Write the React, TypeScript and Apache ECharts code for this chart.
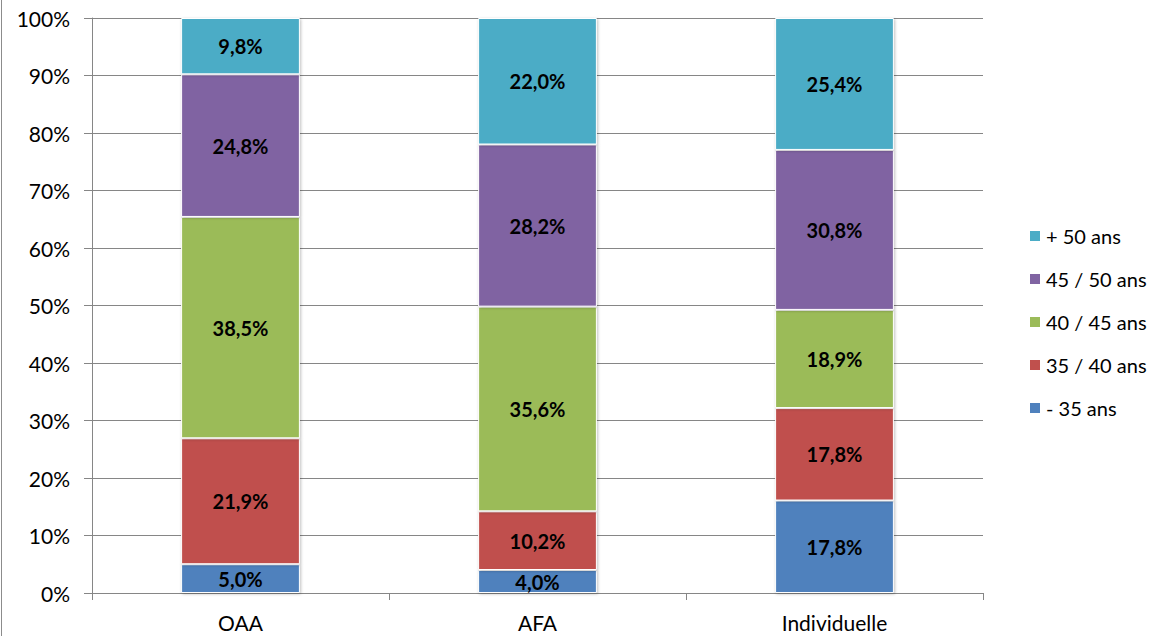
import React, { useEffect, useRef } from "react";
import * as echarts from "echarts";

const categories = ["OAA", "AFA", "Individuelle"];
const seriesNames = ["- 35 ans", "35 / 40 ans", "40 / 45 ans", "45 / 50 ans", "+ 50 ans"];
const under35 = [5.0, 4.0, 17.8];
const from35to40 = [21.9, 10.2, 17.8];
const from40to45 = [38.5, 35.6, 18.9];
const from45to50 = [24.8, 28.2, 30.8];
const over50 = [9.8, 22.0, 25.4];
const colors = ["#4F81BD", "#C0504D", "#9BBB59", "#8064A2", "#4BACC6"];
const yTicks = { min: 0, max: 100, interval: 10 };

const FONT = "Lato, 'Open Sans', sans-serif";

export default function App() {
  const ref = useRef<HTMLDivElement>(null);
  useEffect(() => {
    document.body.style.margin = "0";
    const chart = echarts.init(ref.current!, undefined, { renderer: "svg" });
    const raw = [under35, from35to40, from40to45, from45to50, over50];
    const totals = categories.map((_, i) => raw.reduce((s, arr) => s + arr[i], 0));
    const series = raw.map((arr, k) => ({
      name: seriesNames[k],
      type: "bar",
      stack: "total",
      barWidth: "40%",
      data: arr.map((v, i) => (v / totals[i]) * 100),
      itemStyle: {
        color: colors[k],
        borderColor: "#ffffff",
        borderWidth: 1,
        shadowBlur: 3,
        shadowColor: "rgba(0,0,0,0.25)",
        shadowOffsetX: 1,
        shadowOffsetY: 1,
      },
      label: {
        show: true,
        position: "inside",
        color: "#000",
        fontWeight: "bold",
        fontSize: 20,
        fontFamily: FONT,
        formatter: (p: any) => arr[p.dataIndex].toFixed(1).replace(".", ",") + "%",
      },
    }));
    chart.setOption({
      animation: false,
      grid: { left: 92, right: 190, top: 18, bottom: 43, containLabel: false },
      graphic: [
        {
          type: "line",
          shape: { x1: 1.5, y1: 0, x2: 1.5, y2: 636 },
          style: { stroke: "#8c8c8c", lineWidth: 1 },
        },
      ],
      legend: {
        orient: "vertical",
        left: 1023,
        top: 221,
        itemWidth: 12,
        itemHeight: 12,
        itemGap: 23,
        icon: "rect",
        data: [...seriesNames].reverse(),
        textStyle: { fontSize: 20, fontFamily: FONT, color: "#000" },
      },
      xAxis: {
        type: "category",
        data: categories,
        axisLine: { lineStyle: { color: "#868686" } },
        axisTick: { show: true, length: 7, lineStyle: { color: "#868686" } },
        axisLabel: { color: "#000", fontSize: 21, fontFamily: FONT, margin: 19 },
      },
      yAxis: {
        type: "value",
        min: yTicks.min,
        max: yTicks.max,
        interval: yTicks.interval,
        axisLine: { show: true, lineStyle: { color: "#868686" } },
        axisTick: { show: true, length: 8, lineStyle: { color: "#868686" } },
        splitLine: { lineStyle: { color: "#868686" } },
        axisLabel: { color: "#000", fontSize: 21, fontFamily: FONT, margin: 22, formatter: "{value}%" },
      },
      series,
    });
    return () => chart.dispose();
  }, []);
  return <div ref={ref} style={{ width: 1173, height: 636 }} />;
}
